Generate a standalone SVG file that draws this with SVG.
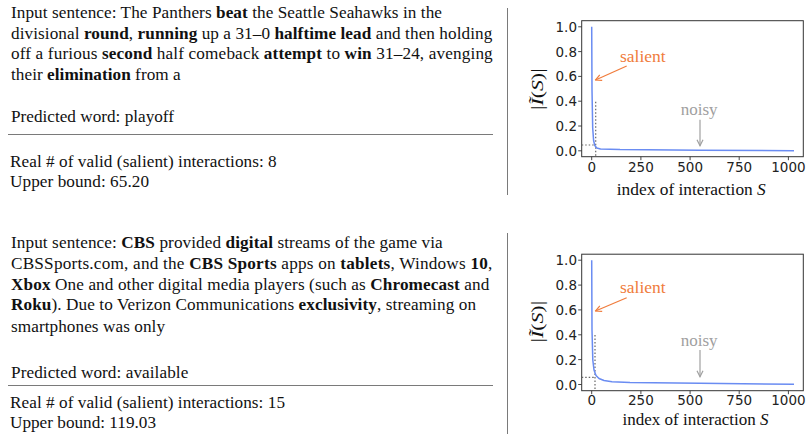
<svg xmlns="http://www.w3.org/2000/svg" width="808" height="436" viewBox="0 0 808 436">
<style>
.t{font-family:"Liberation Serif","Times New Roman",Tinos,serif;font-size:17.2px;fill:#111}
.b{font-weight:bold}
.rule{stroke:#7a7a7a;stroke-width:1}
.ax{fill:none;stroke:#333;stroke-width:1}
.tk{stroke:#333;stroke-width:0.9}
.tl{font-family:"DejaVu Sans",sans-serif;font-size:13.5px;fill:#222}
.yl{text-anchor:end}
.xl{text-anchor:middle}
.lab{font-family:"Liberation Serif","Times New Roman",Tinos,serif;font-size:17.5px;fill:#111}
.curve{fill:none;stroke:#6a8cf2;stroke-width:1.5;stroke-linejoin:round}
.dot{fill:none;stroke:#666;stroke-width:1.2;stroke-dasharray:1.5,2}
.sal{font-family:"Liberation Serif","Times New Roman",Tinos,serif;font-size:17.5px;fill:#f07c3c}
.noi{font-family:"Liberation Serif","Times New Roman",Tinos,serif;font-size:17px;fill:#a0a0a0}
</style>
<defs>
<marker id="ao" markerWidth="8" markerHeight="8" refX="7" refY="4" orient="auto" markerUnits="userSpaceOnUse"><path d="M1,1 L7,4 L1,7" fill="none" stroke="#f07c3c" stroke-width="1.2"/></marker>
<marker id="ag" markerWidth="8" markerHeight="8" refX="7" refY="4" orient="auto" markerUnits="userSpaceOnUse"><path d="M1,1 L7,4 L1,7" fill="none" stroke="#a0a0a0" stroke-width="1.2"/></marker>
</defs>

<g id="dividers">
<line class="rule" x1="507.5" y1="8" x2="507.5" y2="195"/>
<line class="rule" x1="507.5" y1="233" x2="507.5" y2="434"/>
<line class="rule" x1="8" y1="134.5" x2="493" y2="134.5"/>
<line class="rule" x1="8" y1="385.5" x2="493" y2="385.5"/>
</g>

<g id="text-1">
<text class="t" x="11" y="18.3" textLength="431" lengthAdjust="spacing">Input sentence: The Panthers <tspan class="b">beat</tspan> the Seattle Seahawks in the</text>
<text class="t" x="11" y="38.8" textLength="481.3" lengthAdjust="spacing">divisional <tspan class="b">round</tspan>, <tspan class="b">running</tspan> up a 31–0 <tspan class="b">halftime lead</tspan> and then holding</text>
<text class="t" x="11" y="59.4" textLength="481.7" lengthAdjust="spacing">off a furious <tspan class="b">second</tspan> half comeback <tspan class="b">attempt</tspan> to <tspan class="b">win</tspan> 31–24, avenging</text>
<text class="t" x="11" y="80" textLength="169.7" lengthAdjust="spacing">their <tspan class="b">elimination</tspan> from a</text>
<text class="t" x="11" y="122.3" textLength="163" lengthAdjust="spacing">Predicted word: playoff</text>
<text class="t" x="10" y="166.7" textLength="266.7" lengthAdjust="spacing">Real # of valid (salient) interactions: 8</text>
<text class="t" x="10" y="186.7" textLength="139" lengthAdjust="spacing">Upper bound: 65.20</text>
</g>

<g id="text-2">
<text class="t" x="11" y="248.3" textLength="431.7" lengthAdjust="spacing">Input sentence: <tspan class="b">CBS</tspan> provided <tspan class="b">digital</tspan> streams of the game via</text>
<text class="t" x="11" y="269" textLength="481.3" lengthAdjust="spacing">CBSSports.com, and the <tspan class="b">CBS Sports</tspan> apps on <tspan class="b">tablets</tspan>, Windows <tspan class="b">10</tspan>,</text>
<text class="t" x="11" y="289.5" textLength="478.3" lengthAdjust="spacing"><tspan class="b">Xbox</tspan> One and other digital media players (such as <tspan class="b">Chromecast</tspan> and</text>
<text class="t" x="11" y="310.3" textLength="465" lengthAdjust="spacing"><tspan class="b">Roku</tspan>). Due to Verizon Communications <tspan class="b">exclusivity</tspan>, streaming on</text>
<text class="t" x="11" y="331.5" textLength="154" lengthAdjust="spacing">smartphones was only</text>
<text class="t" x="11" y="377.7" textLength="177.3" lengthAdjust="spacing">Predicted word: available</text>
<text class="t" x="10" y="408.3" textLength="275" lengthAdjust="spacing">Real # of valid (salient) interactions: 15</text>
<text class="t" x="10" y="428.3" textLength="146" lengthAdjust="spacing">Upper bound: 119.03</text>
</g>

<g id="plot-1">
<rect class="ax" x="581.7" y="20.7" width="221.6" height="136"/>
<path class="tk" d="M581.7,150.8h-3.5M581.7,126h-3.5M581.7,101.2h-3.5M581.7,76.4h-3.5M581.7,51.6h-3.5M581.7,26.8h-3.5M591.7,156.7v3.5M640.9,156.7v3.5M690.1,156.7v3.5M739.2,156.7v3.5M788.4,156.7v3.5"/>
<text class="tl yl" x="577" y="155.8">0.0</text>
<text class="tl yl" x="577" y="131">0.2</text>
<text class="tl yl" x="577" y="106.2">0.4</text>
<text class="tl yl" x="577" y="81.4">0.6</text>
<text class="tl yl" x="577" y="56.6">0.8</text>
<text class="tl yl" x="577" y="31.8">1.0</text>
<text class="tl xl" x="591.7" y="171.5">0</text>
<text class="tl xl" x="640.9" y="171.5">250</text>
<text class="tl xl" x="690.1" y="171.5">500</text>
<text class="tl xl" x="739.2" y="171.5">750</text>
<text class="tl xl" x="788.4" y="171.5">1000</text>
<path class="dot" d="M581.7,145 H595.7 M595.7,101.7 V156.7"/>
<path class="curve" d="M591.7,26.8 L592,90 L592.7,128 L593.6,140.5 L594.8,145.5 L596.8,148 L600.5,149 L620,149.6 L700,150.2 L794,150.8"/>
<text class="lab" x="691.3" y="195" text-anchor="middle" textLength="149" lengthAdjust="spacingAndGlyphs">index of interaction <tspan font-style="italic">S</tspan></text>
<text class="lab" transform="translate(542.5,89.2) rotate(-90)" x="0" y="0" text-anchor="middle" font-size="19" textLength="41.5" lengthAdjust="spacingAndGlyphs">|<tspan font-style="italic">Ĩ</tspan>(<tspan font-style="italic">S</tspan>)|</text>
<text class="sal" x="620" y="61.5">salient</text>
<text class="noi" x="680.7" y="114.5">noisy</text>
</g>

<g id="plot-2">
<rect class="ax" x="581.7" y="254.2" width="221.6" height="136.5"/>
<path class="tk" d="M581.7,384.5h-3.5M581.7,359.6h-3.5M581.7,334.8h-3.5M581.7,309.9h-3.5M581.7,285.1h-3.5M581.7,260.2h-3.5M591.7,390.7v3.5M640.9,390.7v3.5M690.1,390.7v3.5M739.2,390.7v3.5M788.4,390.7v3.5"/>
<text class="tl yl" x="577" y="389.5">0.0</text>
<text class="tl yl" x="577" y="364.6">0.2</text>
<text class="tl yl" x="577" y="339.8">0.4</text>
<text class="tl yl" x="577" y="314.9">0.6</text>
<text class="tl yl" x="577" y="290.1">0.8</text>
<text class="tl yl" x="577" y="265.2">1.0</text>
<text class="tl xl" x="591.7" y="405.3">0</text>
<text class="tl xl" x="640.9" y="405.3">250</text>
<text class="tl xl" x="690.1" y="405.3">500</text>
<text class="tl xl" x="739.2" y="405.3">750</text>
<text class="tl xl" x="788.4" y="405.3">1000</text>
<path class="dot" d="M581.7,377.3 H595 M595,335 V390.7"/>
<path class="curve" d="M591.7,260.2 L592,330 L592.8,360 L594,370 L596,375.5 L599,378.5 L604,380.5 L612,381.7 L630,382.5 L700,383.3 L794,384.2"/>
<text class="lab" x="695.5" y="424.5" text-anchor="middle" font-size="17" textLength="146" lengthAdjust="spacingAndGlyphs">index of interaction <tspan font-style="italic">S</tspan></text>
<text class="lab" transform="translate(542.5,321.7) rotate(-90)" x="0" y="0" text-anchor="middle" font-size="19" textLength="41.5" lengthAdjust="spacingAndGlyphs">|<tspan font-style="italic">Ĩ</tspan>(<tspan font-style="italic">S</tspan>)|</text>
<text class="sal" x="620" y="292.5">salient</text>
<text class="noi" x="680.7" y="346">noisy</text>
</g>

<g id="connectors">
<line x1="626.7" y1="66" x2="595.5" y2="80" stroke="#f07c3c" stroke-width="1.2" marker-end="url(#ao)"/>
<line x1="700" y1="119.7" x2="700" y2="145.7" stroke="#a0a0a0" stroke-width="1.2" marker-end="url(#ag)"/>
<line x1="626.7" y1="297.7" x2="595.5" y2="311" stroke="#f07c3c" stroke-width="1.2" marker-end="url(#ao)"/>
<line x1="700" y1="350" x2="700" y2="376.7" stroke="#a0a0a0" stroke-width="1.2" marker-end="url(#ag)"/>
</g>
</svg>
